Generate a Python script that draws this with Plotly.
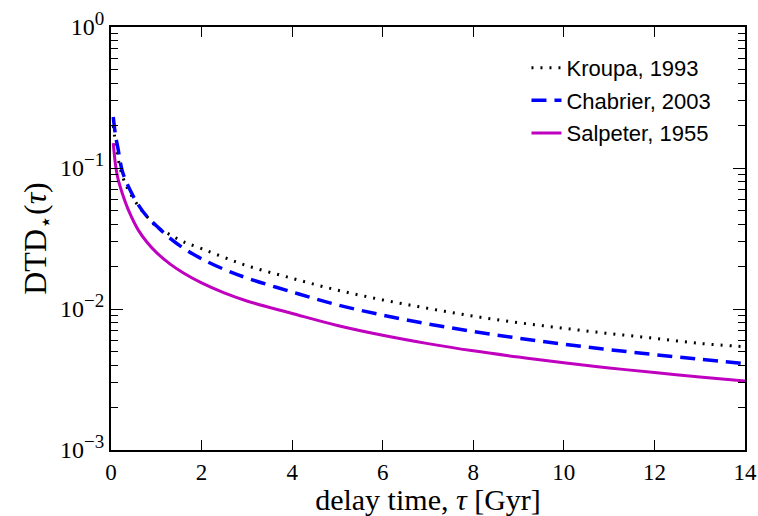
import plotly.graph_objects as go

tau = [0.05, 0.1, 0.15, 0.25, 0.4, 0.6, 0.8, 1.0, 1.3, 1.6, 2, 2.5, 3, 4, 5, 6, 7, 8, 9, 10, 11, 12, 13, 14]

kroupa = [0.20, 0.15, 0.12, 0.088, 0.068, 0.054, 0.045, 0.0385, 0.0337, 0.0300, 0.0268, 0.0232, 0.0203,
          0.0165, 0.0136, 0.0116, 0.0101, 0.0089, 0.0080, 0.0073, 0.0067, 0.0062, 0.0057, 0.0054]
chabrier = [0.23, 0.17, 0.14, 0.095, 0.072, 0.055, 0.045, 0.039, 0.0318, 0.0270, 0.0227, 0.0191, 0.0166,
            0.0132, 0.0107, 0.00905, 0.00784, 0.00693, 0.00621, 0.00563, 0.00515, 0.00475, 0.00441, 0.0041]
salpeter = [0.15, 0.105, 0.085, 0.066, 0.049, 0.0364, 0.0296, 0.0252, 0.0209, 0.0180, 0.0153, 0.0130, 0.0114,
            0.0093, 0.00764, 0.00651, 0.00568, 0.00505, 0.00456, 0.00415, 0.00382, 0.00354, 0.00330, 0.00309]

names = ["Kroupa, 1993", "Chabrier, 2003", "Salpeter, 1955"]
x_ticks = [0, 2, 4, 6, 8, 10, 12, 14]
y_ticks = [1e-3, 1e-2, 1e-1, 1e0]
y_exponents = ["−3", "−2", "−1", "0"]
y_ticktext = ["10<sup><span style='font-size:19px'>%s</span></sup>" % e for e in y_exponents]
y_minor = [m * 10 ** e for e in (-3, -2, -1) for m in range(2, 10)]

styles = [dict(color="black", width=3, dash="2px,7px"),
          dict(color="#0000FF", width=3.5, dash="15px,8px"),
          dict(color="#BF00BF", width=3)]

fig = go.Figure()
for name, vals, st in zip(names, [kroupa, chabrier, salpeter], styles):
    fig.add_trace(go.Scatter(x=tau, y=vals, mode="lines", name=name, legendgroup=name,
                             line_shape="spline", line=st))

serif = "Liberation Serif, DejaVu Serif, serif"
fig.update_layout(
    width=758, height=516,
    margin=dict(l=111, r=13, t=27, b=66),
    plot_bgcolor="white", paper_bgcolor="white",
    showlegend=True,
    legend=dict(x=0.955, y=0.953, xanchor="right", yanchor="top",
                font=dict(family="Liberation Sans, Arial, sans-serif", size=22, color="black"),
                bgcolor="rgba(0,0,0,0)", tracegroupgap=1),
    xaxis=dict(range=[0, 14], tickvals=x_ticks, ticks="inside", ticklen=10, tickwidth=1,
               tickcolor="black", showline=True, linecolor="black", linewidth=2, mirror="ticks",
               showgrid=False, zeroline=False, automargin=False,
               tickfont=dict(family=serif, size=23, color="black"),
               title=dict(text="delay time, <i>τ</i> [Gyr]", font=dict(family=serif, size=30, color="black"),
                          standoff=4)),
    yaxis=dict(type="log", range=[-3, 0], tickvals=y_ticks, ticktext=y_ticktext,
               ticks="inside", ticklen=12, tickwidth=1, tickcolor="black",
               minor=dict(tickvals=y_minor, ticks="inside", ticklen=7, tickwidth=1, tickcolor="black"),
               showline=True, linecolor="black", linewidth=2, mirror="ticks",
               showgrid=False, zeroline=False, automargin=False,
               tickfont=dict(family=serif, size=24, color="black"),
               title=dict(text="DTD<sub><span style='font-size:22px'>⋆</span></sub>(<i>τ</i>)",
                          font=dict(family=serif, size=32, color="black"), standoff=4)),
)

fig.write_html("out.html")
